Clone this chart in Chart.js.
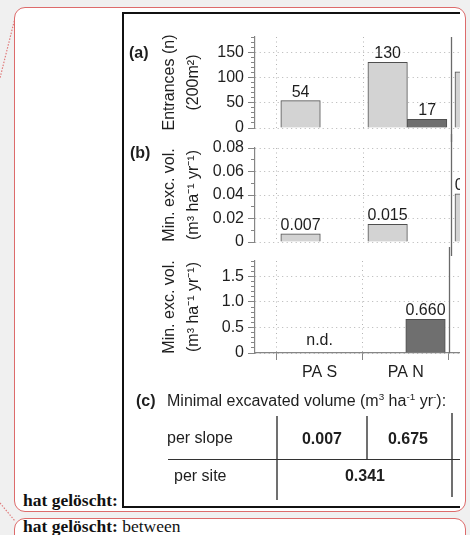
<!DOCTYPE html>
<html lang="de">
<head>
<meta charset="utf-8">
<title>Entrances and minimal excavated volume</title>
<script src="https://cdn.jsdelivr.net/npm/chart.js@4.4.1/dist/chart.umd.min.js"></script>
<style>
  html, body { margin:0; padding:0; }
  body { width:470px; height:535px; position:relative; overflow:hidden; background:#f0f0f0;
         font-family:"Liberation Sans", Arial, Helvetica, sans-serif; color:#1e1e1e; }
  .abs { position:absolute; }
  .bubble { position:absolute; left:14px; width:452px; box-sizing:border-box; background:#fff;
            border:1.5px solid #dd6b6b; border-radius:11px; }
  .del { position:absolute; left:23px; font-family:"Liberation Serif","Times New Roman",serif;
         font-size:17.5px; line-height:17.5px; color:#111; white-space:nowrap; }
  #clip { position:absolute; left:122px; top:12px; width:338px; height:496px; overflow:hidden; }
  #inner { position:absolute; left:-122px; top:-12px; width:600px; height:535px; }
  #frame { position:absolute; left:122px; top:12px; width:420px; height:496px; box-sizing:border-box;
           border:2px solid #111; background:#fff; }
  canvas { position:absolute; left:124px; }
  .t16 { position:absolute; font-size:16px; line-height:18px; white-space:nowrap; color:#1e1e1e; }
  .bold { font-weight:bold; }
  .ctr { text-align:center; width:80px; }
  .vl { position:absolute; width:1.5px; background:#707070; }
  .hl { position:absolute; height:1px; background:#333; }
  sup { font-size:62%; line-height:0; vertical-align:0.6em; }
</style>
</head>
<body>
<svg class="abs" style="left:0;top:0" width="470" height="535">
  <line x1="15" y1="18" x2="0" y2="78" stroke="#e07b7b" stroke-width="1.2" stroke-dasharray="1.5 1.5"/>
  <line x1="0" y1="503" x2="15" y2="521" stroke="#e07b7b" stroke-width="1.2" stroke-dasharray="1.5 1.5"/>
</svg>
<div class="bubble" style="top:7px;height:505px"></div>
<div class="bubble" style="top:518px;height:40px"></div>
<div class="del" style="top:492px"><b>hat gelöscht:</b></div>
<div class="del" style="top:518px"><b>hat gelöscht:</b> between</div>

<div id="clip"><div id="inner">
  <div id="frame"></div>
  <canvas id="panelA" width="414" height="119" style="top:23px"></canvas>
  <canvas id="panelB" width="414" height="122" style="top:134px"></canvas>
  <canvas id="panelC" width="414" height="136" style="top:247px"></canvas>

  <div class="t16 bold" style="left:129px;top:44px">(a)</div>
  <div class="t16 bold" style="left:130px;top:144px">(b)</div>
  <div class="t16 bold" style="left:136px;top:392px">(c)</div>
  <div class="t16" style="left:167px;top:392px">Minimal excavated volume (m<sup>3</sup> ha<sup>-1</sup> yr<sup>-</sup>):</div>

  <div class="t16" id="row0" style="left:167px;top:429px"></div>
  <div class="t16" id="row1" style="left:174px;top:467px"></div>
  <div class="t16 bold ctr" id="cell00" style="left:282px;top:430px"></div>
  <div class="t16 bold ctr" id="cell01" style="left:368px;top:430px"></div>
  <div class="t16 bold ctr" id="cell10" style="left:325px;top:467px"></div>
  <div class="vl" style="left:276px;top:416px;height:84px"></div>
  <div class="vl" style="left:366px;top:416px;height:43px"></div>
  <div class="vl" style="left:451px;top:413px;height:84px"></div>
  <div class="hl" style="left:168px;top:459px;width:300px"></div>
</div></div>

<script>
// ---------------- data ----------------
const categories = ['PA S', 'PA N', ''];

const entrancesLight = [54, 130, 111];
const entrancesDark  = [null, 17, null];

const slopeVolLight = [0.007, 0.015, 0.041];
const slopeVolDark  = [null, null, null];

const siteVolLight = [null, null, null];
const siteVolDark  = [null, 0.660, null];
const siteVolNotes = ['n.d.', null, null];

const entrancesTicks = [0, 50, 100, 150];
const entrancesTickLabels = ['0', '50', '100', '150'];
const slopeVolTicks = [0, 0.02, 0.04, 0.06, 0.08];
const slopeVolTickLabels = ['0', '0.02', '0.04', '0.06', '0.08'];
const siteVolTicks = [0, 0.5, 1.0, 1.5];
const siteVolTickLabels = ['0', '0.5', '1.0', '1.5'];

const entrancesTitle = ['Entrances (n)', '(200m²)'];
const volTitle = ['Min. exc. vol.', '(m³ ha⁻¹ yr⁻¹)'];

const tableRowLabels = ['per slope', 'per site'];
const tablePerSlope = ['0.007', '0.675'];
const tablePerSite = ['0.341'];

// ---------------- table text ----------------
document.getElementById('row0').textContent = tableRowLabels[0];
document.getElementById('row1').textContent = tableRowLabels[1];
document.getElementById('cell00').textContent = tablePerSlope[0];
document.getElementById('cell01').textContent = tablePerSlope[1];
document.getElementById('cell10').textContent = tablePerSite[0];

// ---------------- chart ----------------
const FONT = '"Liberation Sans", Arial, Helvetica, sans-serif';
Chart.defaults.font.family = FONT;
Chart.defaults.font.size = 16;
Chart.defaults.color = '#1e1e1e';

const GRID = '#b4b4b4', AXIS = '#858585', SPINE = '#6a6a6a';
const LIGHT = '#d3d3d3', DARK = '#6f6f6f', EDGE = '#4f4f4f';

const valueLabels = {
  id: 'valueLabels',
  afterDatasetsDraw(chart, args, opts) {
    const ctx = chart.ctx;
    ctx.save();
    ctx.font = '16px ' + FONT;
    ctx.fillStyle = '#1e1e1e';
    ctx.textAlign = 'center';
    ctx.textBaseline = 'alphabetic';
    chart.data.datasets.forEach((ds, di) => {
      const meta = chart.getDatasetMeta(di);
      meta.data.forEach((bar, i) => {
        const v = ds.data[i].y;
        if (v === null || v === undefined) return;
        ctx.fillText(v.toFixed(opts.decimals), bar.x, bar.y - 4);
      });
    });
    (opts.notes || []).forEach((n, i) => {
      if (!n) return;
      const x = chart.scales.x.getPixelForValue(i);
      const y = chart.scales.yIn.getPixelForValue(0) - 8;
      ctx.fillText(n, x, y);
    });
    ctx.restore();
  }
};

const spine = {
  id: 'spine',
  afterDraw(chart, args, opts) {
    const ctx = chart.ctx;
    const x = Math.round(chart.scales.x.getPixelForValue(opts.at)) + 0.5;
    const y1 = opts.fromTop ? 0 : chart.chartArea.top;
    const y2 = opts.toBottom ? chart.height : chart.chartArea.bottom;
    ctx.save();
    ctx.strokeStyle = SPINE;
    ctx.lineWidth = 1.3;
    ctx.beginPath();
    ctx.moveTo(x, y1);
    ctx.lineTo(x, y2);
    ctx.stroke();
    ctx.restore();
  }
};

function makePanel(id, p) {
  const xTicks = [];
  categories.forEach((c, i) => { xTicks.push(i - 0.5, i); });
  xTicks.push(categories.length - 0.5);
  const isEdge = v => Math.abs(v - Math.round(v)) > 0.25;
  const spineAt = categories.length - 1.5;

  const minor = [];
  for (let k = 0; k * p.minorStep <= p.max + 1e-9; k++) minor.push(+(k * p.minorStep).toFixed(6));
  const isMajor = v => p.ticks.some(t => Math.abs(t - v) < 1e-9);

  const toPoints = arr => arr.map((v, i) => ({ x: i, y: v })).filter(d => d.y !== null);

  return new Chart(document.getElementById(id), {
    type: 'bar',
    data: {
      datasets: [
        { data: toPoints(p.light), backgroundColor: LIGHT, borderColor: EDGE, borderWidth: 1,
          xAxisID: 'x', yAxisID: 'yIn' },
        { data: toPoints(p.dark), backgroundColor: DARK, borderColor: EDGE, borderWidth: 1,
          xAxisID: 'x', yAxisID: 'yIn' }
      ]
    },
    options: {
      responsive: false,
      animation: false,
      events: [],
      barThickness: 39.5,
      layout: { padding: { top: 14, bottom: p.showX ? 0 : 14, left: 0, right: 0 } },
      plugins: {
        legend: { display: false },
        tooltip: { enabled: false },
        valueLabels: { decimals: p.decimals, notes: p.notes },
        spine: { at: spineAt, fromTop: p.spineFromTop, toBottom: p.spineToBottom }
      },
      scales: {
        x: {
          type: 'linear',
          offset: false,
          min: -0.75,
          max: categories.length - 0.5,
          afterBuildTicks: s => { s.ticks = xTicks.map(v => ({ value: v })); },
          afterFit: s => { if (p.showX) s.height = 30; },
          grid: {
            offset: false,
            drawTicks: p.showX,
            tickLength: 7,
            lineWidth: 1,
            color: c => (c.tick && isEdge(c.tick.value) && c.tick.value < spineAt) ? GRID : 'rgba(0,0,0,0)',
            tickColor: c => (c.tick && isEdge(c.tick.value)) ? AXIS : 'rgba(0,0,0,0)'
          },
          border: {
            display: p.showX, color: AXIS, width: 1.2,
            dash: c => c.type === 'tick' ? [1, 3.5] : []
          },
          ticks: {
            display: p.showX,
            autoSkip: false,
            maxRotation: 0,
            padding: 3,
            font: { size: 16 },
            callback: v => isEdge(v) ? '' : (categories[Math.round(v)] || '')
          }
        },
        yIn: {
          type: 'linear',
          position: 'left',
          weight: 0,
          min: 0,
          max: p.max,
          afterBuildTicks: s => { s.ticks = minor.map(v => ({ value: v })); },
          afterFit: s => { s.width = 4; },
          ticks: { display: false },
          grid: {
            drawTicks: true,
            tickLength: 4,
            color: c => (c.tick && isMajor(c.tick.value)) ? GRID : 'rgba(0,0,0,0)',
            tickColor: AXIS
          },
          border: {
            display: true, color: AXIS, width: 1.2,
            dash: c => c.type === 'tick' ? [1, 3.5] : []
          }
        },
        yOut: {
          type: 'linear',
          position: 'left',
          weight: 1,
          min: 0,
          max: p.max,
          afterBuildTicks: s => { s.ticks = p.ticks.map(v => ({ value: v })); },
          afterFit: s => { s.width = 127; },
          ticks: {
            padding: 4,
            font: { size: 16 },
            callback: (v, i) => p.tickLabels[i]
          },
          grid: { drawOnChartArea: false, drawTicks: true, tickLength: 3, tickColor: AXIS },
          border: { display: false },
          title: {
            display: true,
            text: p.title,
            font: { size: 16, lineHeight: 1.5 },
            padding: { top: 34, bottom: 0 }
          }
        }
      }
    },
    plugins: [valueLabels, spine]
  });
}

makePanel('panelA', {
  light: entrancesLight, dark: entrancesDark, notes: [],
  max: 180, minorStep: 10, ticks: entrancesTicks, tickLabels: entrancesTickLabels,
  title: entrancesTitle, decimals: 0, showX: false, spineFromTop: false, spineToBottom: true
});
makePanel('panelB', {
  light: slopeVolLight, dark: slopeVolDark, notes: [],
  max: 0.08, minorStep: 0.01, ticks: slopeVolTicks, tickLabels: slopeVolTickLabels,
  title: volTitle, decimals: 3, showX: false, spineFromTop: true, spineToBottom: true
});
makePanel('panelC', {
  light: siteVolLight, dark: siteVolDark, notes: siteVolNotes,
  max: 1.8, minorStep: 0.1, ticks: siteVolTicks, tickLabels: siteVolTickLabels,
  title: volTitle, decimals: 3, showX: true, spineFromTop: true, spineToBottom: false
});
</script>
</body>
</html>
